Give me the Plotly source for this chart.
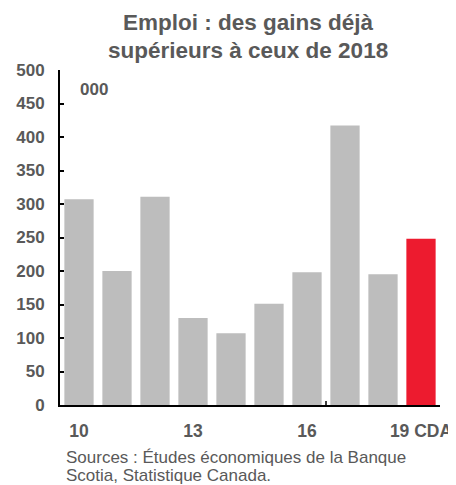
import plotly.graph_objects as go

years = ["10", "11", "12", "13", "14", "15", "16", "17", "18", "19 CDA"]
values = [307, 200, 311, 130, 107, 151, 198, 417, 195, 248]
bar_colors = ["#BDBDBD"] * 9 + ["#ED1B2F"]
tick_show = ["10", "13", "16", "19 CDA"]

gray = "#595959"
font = "Liberation Sans, Arial, sans-serif"

OFF = 8  # page body margin
W, H = 456 - OFF, 485 - OFF
L, R, T, B = 60 - OFF, 16, 70 - OFF, 80
PW = W - L - R
PH = H - T - B


def px(x):
    return (x - OFF - L) / PW


def py(y):
    return (H - B - (y - OFF)) / PH


fig = go.Figure(go.Bar(x=years, y=values, marker=dict(color=bar_colors, line=dict(width=0))))

fig.update_layout(
    width=W, height=H,
    margin=dict(l=L, r=R, t=T, b=B, autoexpand=False),
    plot_bgcolor="white", paper_bgcolor="white",
    bargap=0.23,
    showlegend=False,
    font=dict(family=font, color=gray),
)
fig.update_xaxes(
    type="category", range=[-0.5, 9.5], automargin=False,
    tickmode="array", tickvals=tick_show, ticktext=tick_show,
    ticks="", showline=True, linecolor="black", linewidth=2,
    tickfont=dict(size=17.5, color=gray, family=font, weight="bold"), ticklabelstandoff=9,
    showgrid=False,
)
fig.update_yaxes(
    range=[0, 500], dtick=50, ticks="inside", ticklen=4, tickwidth=1.5, tickcolor="black",
    showline=True, linecolor="black", linewidth=2, showgrid=False, zeroline=False,
    automargin=False,
    tickfont=dict(size=17, color=gray, family=font, weight="bold"), ticklabelstandoff=10,
)
# small tick mark on the category axis between 16 and 17
fig.add_shape(type="line", xref="x", yref="paper", x0=6.5, x1=6.5, y0=0, y1=4 / PH,
              line=dict(color="black", width=1.5))
title_lines = ["Emploi : des gains déjà", "supérieurs à ceux de 2018"]
for i, t in enumerate(title_lines):
    fig.add_annotation(text=t, xref="paper", yref="paper", x=px(248), y=py(22 + 28 * i),
                       xanchor="center", yanchor="middle", showarrow=False,
                       font=dict(size=22.5, color=gray, family=font, weight="bold"))
fig.add_annotation(text="000", xref="paper", yref="paper", x=px(78), y=py(89),
                   xanchor="left", yanchor="middle", showarrow=False,
                   font=dict(size=17, color=gray, family=font, weight="bold"))
src_lines = ["Sources : Études économiques de la Banque", "Scotia, Statistique Canada."]
for i, t in enumerate(src_lines):
    fig.add_annotation(text=t, xref="paper", yref="paper", x=px(64), y=py(457 + 18 * i),
                       xanchor="left", yanchor="middle", showarrow=False,
                       font=dict(size=17, color=gray, family=font))
fig.write_html("out.html")
